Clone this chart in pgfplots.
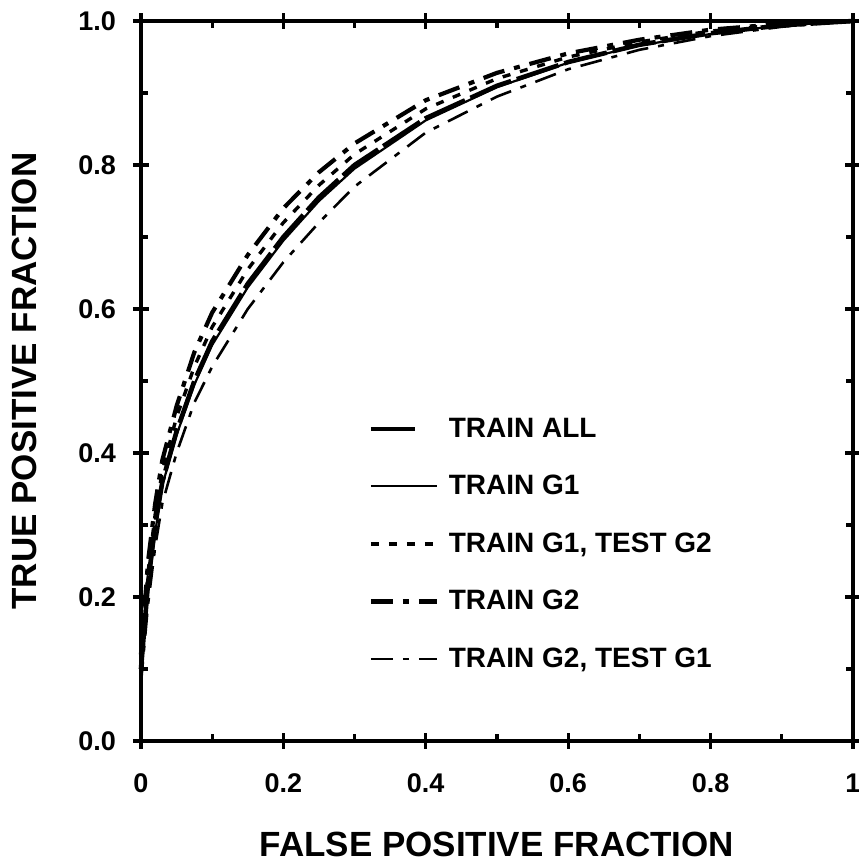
\documentclass[border=0pt]{standalone}
\usepackage{fontspec}
\setmainfont{Liberation Sans}
\usepackage{pgfplots}
\pgfplotsset{compat=1.18}
\pgfplotsset{shortleg/.style={legend image code/.code={\draw[##1] (0pt,0pt) -- (22pt,0pt);}}}

\begin{document}
\begin{tikzpicture}
\begin{axis}[
    width=356pt, height=360pt, scale only axis,
    xmin=0, xmax=1, ymin=0, ymax=1,
    axis line style={line width=2.4pt},
    xtick={0,0.2,0.4,0.6,0.8,1},
    xticklabels={0,0.2,0.4,0.6,0.8,1},
    ytick={0,0.2,0.4,0.6,0.8,1},
    yticklabels={0.0,0.2,0.4,0.6,0.8,1.0},
    minor tick num=1,
    tick align=inside,
    major tick length=4pt, minor tick length=3.5pt,
    extra x ticks={0,0.2,0.4,0.6,0.8,1}, extra x tick labels={},
    extra y ticks={0,0.2,0.4,0.6,0.8,1}, extra y tick labels={},
    extra tick style={tick align=outside, major tick length=4pt},
    every tick/.style={black, line width=1.6pt},
    ticklabel style={font=\fontsize{13.5}{15}\selectfont\bfseries},
    xticklabel style={yshift=-13pt},
    yticklabel style={xshift=-9pt},
    xlabel={FALSE POSITIVE FRACTION},
    ylabel={TRUE POSITIVE FRACTION},
    label style={font=\fontsize{17.5}{19}\selectfont\bfseries, inner sep=0pt},
    xlabel style={at={(axis description cs:0.5,-0.144)}, anchor=center},
    ylabel style={at={(axis description cs:-0.163,0.5)}, anchor=center},
    clip=false,
    legend cell align=left,
    legend style={draw=none, fill=none, at={(0.319,0.455)}, anchor=north west,
                  font=\fontsize{14}{16}\selectfont\bfseries,
                  row sep=13.5pt, inner sep=0pt,
                  nodes={inner xsep=5pt}},
    legend image code/.code={\draw[#1] (0pt,0pt) -- (33pt,0pt);},
]
% TRAIN ALL
\addplot[black, line width=2.3pt, dash pattern=on 22pt off 3pt, shortleg] coordinates {
 (0,0.10) (0.01,0.22) (0.02,0.30) (0.03,0.36) (0.05,0.43) (0.075,0.50)
 (0.1,0.555) (0.15,0.635) (0.2,0.70) (0.25,0.755) (0.3,0.80) (0.4,0.865)
 (0.5,0.91) (0.6,0.943) (0.7,0.967) (0.8,0.983) (0.9,0.994) (1,1) };
% TRAIN G1
\addplot[black, line width=1.1pt] coordinates {
 (0,0.10) (0.01,0.21) (0.02,0.29) (0.03,0.355) (0.05,0.425) (0.075,0.495)
 (0.1,0.55) (0.15,0.63) (0.2,0.695) (0.25,0.75) (0.3,0.795) (0.4,0.862)
 (0.5,0.908) (0.6,0.942) (0.7,0.966) (0.8,0.982) (0.9,0.994) (1,1) };
% TRAIN G1, TEST G2
\addplot[black, line width=1.7pt, dash pattern=on 4pt off 5pt] coordinates {
 (0,0.11) (0.01,0.235) (0.02,0.315) (0.03,0.375) (0.05,0.45) (0.075,0.52)
 (0.1,0.575) (0.15,0.655) (0.2,0.72) (0.25,0.772) (0.3,0.815) (0.4,0.878)
 (0.5,0.92) (0.6,0.95) (0.7,0.971) (0.8,0.986) (0.9,0.995) (1,1) };
% TRAIN G2
\addplot[black, line width=2.1pt, dash pattern=on 11pt off 5pt on 3pt off 5pt] coordinates {
 (0,0.12) (0.01,0.25) (0.02,0.33) (0.03,0.39) (0.05,0.465) (0.075,0.54)
 (0.1,0.595) (0.15,0.675) (0.2,0.74) (0.25,0.79) (0.3,0.83) (0.4,0.89)
 (0.5,0.928) (0.6,0.955) (0.7,0.974) (0.8,0.988) (0.9,0.996) (1,1) };
% TRAIN G2, TEST G1
\addplot[black, line width=1.3pt, dash pattern=on 11pt off 5pt on 3pt off 5pt] coordinates {
 (0,0.08) (0.01,0.19) (0.02,0.27) (0.03,0.33) (0.05,0.40) (0.075,0.47)
 (0.1,0.52) (0.15,0.60) (0.2,0.665) (0.25,0.72) (0.3,0.77) (0.4,0.845)
 (0.5,0.895) (0.6,0.933) (0.7,0.96) (0.8,0.979) (0.9,0.992) (1,1) };
\legend{TRAIN ALL, TRAIN G1, {TRAIN G1, TEST G2}, TRAIN G2, {TRAIN G2, TEST G1}}
\coordinate (bl) at (rel axis cs:-0.198,-0.1667);
\coordinate (tr) at (rel axis cs:1.0084,1.0292);
\end{axis}
\pgfresetboundingbox
\path[use as bounding box] (bl) rectangle (tr);
\end{tikzpicture}
\end{document}
